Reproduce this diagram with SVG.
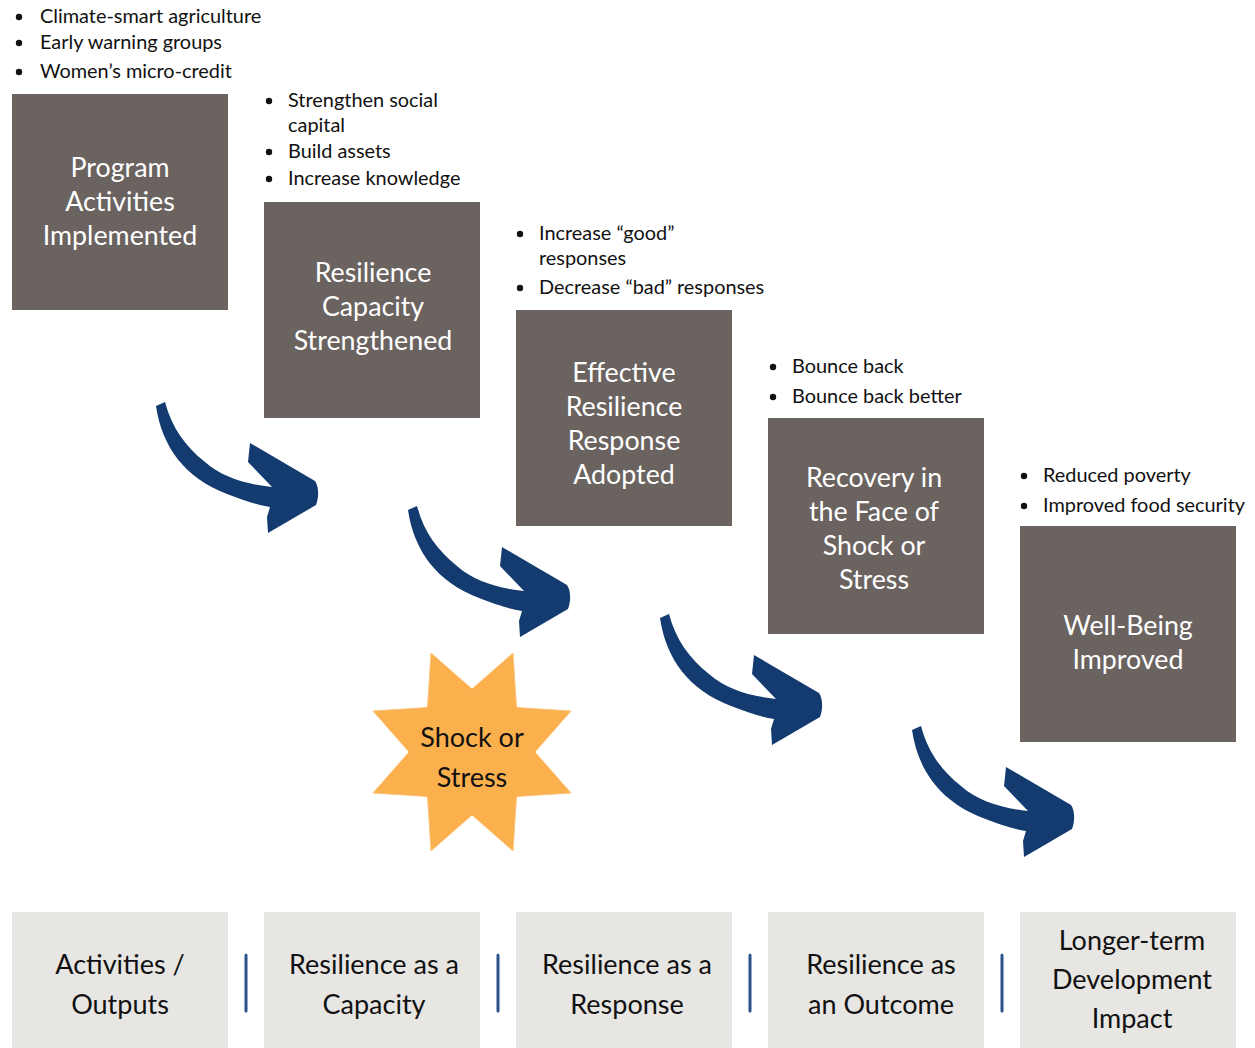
<svg xmlns="http://www.w3.org/2000/svg" width="1255" height="1048" viewBox="0 0 1255 1048">
<defs>
<style>
.box{fill:#6b6360}
.lbox{fill:#e7e6e3}
.wt{font-family:Lato,"Open Sans",sans-serif;font-size:26.8px;fill:#ffffff;text-anchor:middle}
.bt{font-family:Lato,"Open Sans",sans-serif;font-size:27px;fill:#111111;text-anchor:middle}
.bl{font-family:Lato,"Open Sans",sans-serif;font-size:19.9px;fill:#111111}
.dot{fill:#111111}
.arr{fill:#133b70}
.sep{stroke:#2d5189;stroke-width:3;stroke-linecap:round}
</style>
<path id="arrow" d="M156,406 C162,447 185,478 227,494 C245,501 258,505 270,507 L267,517 L268,533 L316,505 C319,497 319,487 315,481 L250,443 L248,462 L272,487 C245,484 222,477 205,462 C185,446 172,428 165,402 Z"/>
</defs>

<g id="connectors">
<use href="#arrow" class="arr"/>
<use href="#arrow" class="arr" transform="translate(252,104)"/>
<use href="#arrow" class="arr" transform="translate(504,212)"/>
<use href="#arrow" class="arr" transform="translate(756,324)"/>
</g>

<g id="bullets1">
<circle class="dot" cx="19" cy="17" r="3.2"/><text class="bl" x="40" y="23">Climate-smart agriculture</text>
<circle class="dot" cx="19" cy="43" r="3.2"/><text class="bl" x="40" y="49">Early warning groups</text>
<circle class="dot" cx="19" cy="72" r="3.2"/><text class="bl" x="40" y="78">Women’s micro-credit</text>
</g>
<g id="bullets2">
<circle class="dot" cx="269" cy="101" r="3.2"/><text class="bl" x="288" y="107">Strengthen social</text>
<text class="bl" x="288" y="132">capital</text>
<circle class="dot" cx="269" cy="152" r="3.2"/><text class="bl" x="288" y="158">Build assets</text>
<circle class="dot" cx="269" cy="179" r="3.2"/><text class="bl" x="288" y="185">Increase knowledge</text>
</g>
<g id="bullets3">
<circle class="dot" cx="520" cy="234" r="3.2"/><text class="bl" x="539" y="240">Increase “good”</text>
<text class="bl" x="539" y="265">responses</text>
<circle class="dot" cx="520" cy="288" r="3.2"/><text class="bl" x="539" y="294">Decrease “bad” responses</text>
</g>
<g id="bullets4">
<circle class="dot" cx="773" cy="367" r="3.2"/><text class="bl" x="792" y="373">Bounce back</text>
<circle class="dot" cx="773" cy="397" r="3.2"/><text class="bl" x="792" y="403">Bounce back better</text>
</g>
<g id="bullets5">
<circle class="dot" cx="1024" cy="476" r="3.2"/><text class="bl" x="1043" y="482">Reduced poverty</text>
<circle class="dot" cx="1024" cy="506" r="3.2"/><text class="bl" x="1043" y="512">Improved food security</text>
</g>

<g id="node-program">
<rect class="box" x="12" y="94" width="216" height="216"/>
<text class="wt" x="120" y="177">Program</text>
<text class="wt" x="120" y="211">Activities</text>
<text class="wt" x="120" y="245">Implemented</text>
</g>
<g id="node-capacity">
<rect class="box" x="264" y="202" width="216" height="216"/>
<text class="wt" x="373" y="282">Resilience</text>
<text class="wt" x="373" y="316">Capacity</text>
<text class="wt" x="373" y="350">Strengthened</text>
</g>
<g id="node-response">
<rect class="box" x="516" y="310" width="216" height="216"/>
<text class="wt" x="624" y="382">Effective</text>
<text class="wt" x="624" y="416">Resilience</text>
<text class="wt" x="624" y="450">Response</text>
<text class="wt" x="624" y="484">Adopted</text>
</g>
<g id="node-recovery">
<rect class="box" x="768" y="418" width="216" height="216"/>
<text class="wt" x="874" y="487">Recovery in</text>
<text class="wt" x="874" y="521">the Face of</text>
<text class="wt" x="874" y="555">Shock or</text>
<text class="wt" x="874" y="589">Stress</text>
</g>
<g id="node-wellbeing">
<rect class="box" x="1020" y="526" width="216" height="216"/>
<text class="wt" x="1128" y="635">Well-Being</text>
<text class="wt" x="1128" y="669">Improved</text>
</g>

<g id="node-shock">
<polygon fill="#fbb04e" stroke="#fcc27a" stroke-width="1" points="431,653 472,689 513,653 516.5,707.5 571,711 535,752 571,793 516.5,796.5 513,851 472,815 431,851 427.5,796.5 373,793 409,752 373,711 427.5,707.5"/>
<text class="bt" x="472" y="747">Shock or</text>
<text class="bt" x="472" y="787">Stress</text>
</g>

<g id="stage-outputs">
<rect class="lbox" x="12" y="912" width="216" height="136"/>
<text class="bt" x="120" y="974">Activities /</text>
<text class="bt" x="120" y="1014">Outputs</text>
</g>
<g id="stage-capacity">
<rect class="lbox" x="264" y="912" width="216" height="136"/>
<text class="bt" x="374" y="974">Resilience as a</text>
<text class="bt" x="374" y="1014">Capacity</text>
</g>
<g id="stage-response">
<rect class="lbox" x="516" y="912" width="216" height="136"/>
<text class="bt" x="627" y="974">Resilience as a</text>
<text class="bt" x="627" y="1014">Response</text>
</g>
<g id="stage-outcome">
<rect class="lbox" x="768" y="912" width="216" height="136"/>
<text class="bt" x="881" y="974">Resilience as</text>
<text class="bt" x="881" y="1014">an Outcome</text>
</g>
<g id="stage-impact">
<rect class="lbox" x="1020" y="912" width="216" height="136"/>
<text class="bt" x="1132" y="950">Longer-term</text>
<text class="bt" x="1132" y="989">Development</text>
<text class="bt" x="1132" y="1028">Impact</text>
</g>

<g id="separators">
<line class="sep" x1="246" y1="955" x2="246" y2="1011"/>
<line class="sep" x1="498" y1="955" x2="498" y2="1011"/>
<line class="sep" x1="750" y1="955" x2="750" y2="1011"/>
<line class="sep" x1="1002" y1="955" x2="1002" y2="1011"/>
</g>
</svg>
